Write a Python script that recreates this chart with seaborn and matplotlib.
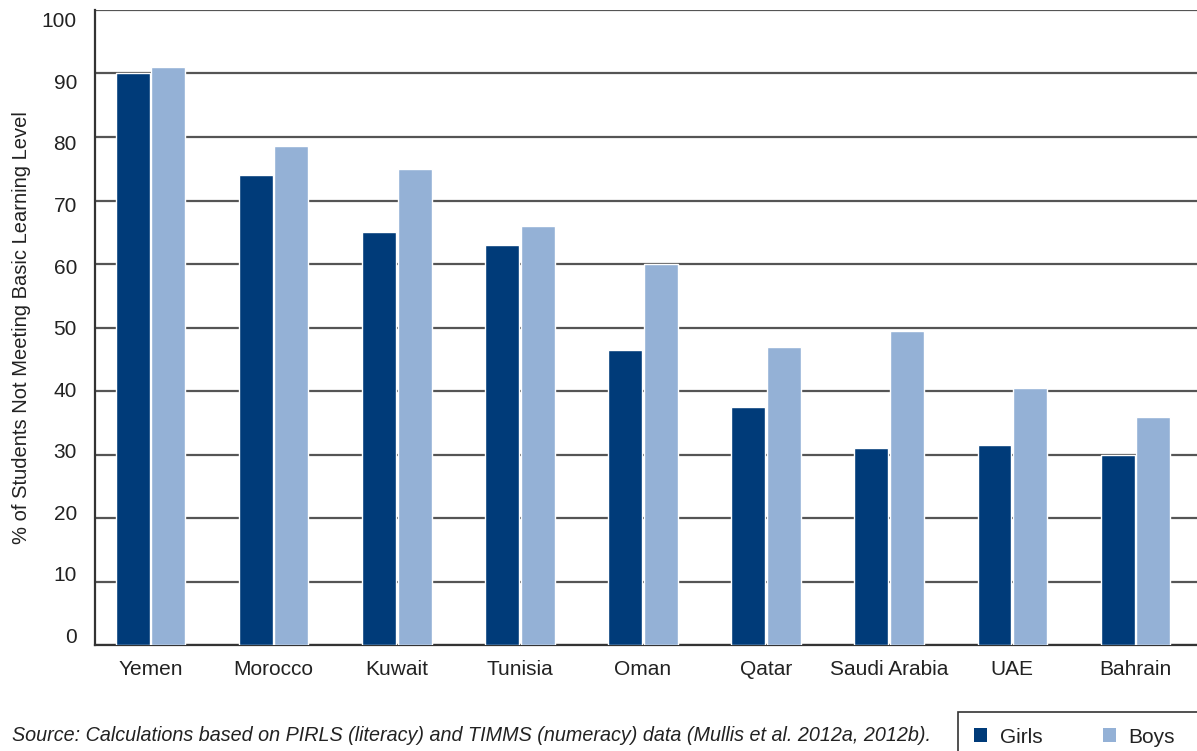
import matplotlib
matplotlib.use("Agg")
import matplotlib.pyplot as plt
import matplotlib.patches as mpatches
import matplotlib.transforms as mtransforms
import seaborn as sns
import pandas as pd

# Share of students not meeting the basic learning level, by country and sex
countries = ["Yemen", "Morocco", "Kuwait", "Tunisia", "Oman", "Qatar",
             "Saudi Arabia", "UAE", "Bahrain"]
girls = [90.0, 74.0, 65.0, 63.0, 46.5, 37.5, 31.0, 31.5, 30.0]
boys = [91.0, 78.6, 75.0, 66.0, 60.0, 46.9, 49.4, 40.5, 35.9]
series = ["Girls", "Boys"]
y_ticks = [0, 10, 20, 30, 40, 50, 60, 70, 80, 90, 100]

df = pd.DataFrame({
    "country": countries * 2,
    "sex": [series[0]] * len(countries) + [series[1]] * len(countries),
    "value": girls + boys,
})

sns.set_theme(style="white")
plt.rcParams["font.family"] = ["Liberation Sans", "DejaVu Sans"]

fig = plt.figure(figsize=(11.97, 7.51), dpi=100)
ax = fig.add_axes([0.0794, 0.1411, 0.9206, 0.8456])

palette = {"Girls": "#003B79", "Boys": "#94B1D6"}
sns.barplot(data=df, x="country", y="value", hue="sex", order=countries,
            hue_order=series, palette=palette, width=0.58, gap=0.05,
            saturation=1, ax=ax, legend=False, zorder=3)

ax.set_ylim(0, 100)
ax.set_xlim(-0.45, 8.5)
ax.set_yticks(y_ticks)
ax.set_yticklabels([str(t) for t in y_ticks], fontsize=15, color="#222222")
ax.tick_params(axis="x", labelsize=15, colors="#222222", length=0, pad=11)
ax.tick_params(axis="y", length=0, pad=13)
ax.yaxis.grid(True, color="#555555", linewidth=1.6, zorder=0)
ax.set_axisbelow(True)

# value labels sit on a slightly tighter scale than the gridlines:
# the bottom label rides a little above 0, the top one a little below 100
for val, lab in zip(y_ticks, ax.get_yticklabels()):
    dy = (10 - 0.2 * val) / 100.0
    lab.set_transform(lab.get_transform()
                      + mtransforms.ScaledTranslation(0, dy, fig.dpi_scale_trans))

for side in ["top", "right"]:
    ax.spines[side].set_visible(False)
for side in ["left", "bottom"]:
    ax.spines[side].set_color("#333333")
    ax.spines[side].set_linewidth(1.6)

ax.set_xlabel("")
ax.set_ylabel("% of Students Not Meeting Basic Learning Level", fontsize=14.5,
              color="#222222", labelpad=8)

fig.text(0.010, 0.0085,
         "Source: Calculations based on PIRLS (literacy) and TIMMS (numeracy) "
         "data (Mullis et al. 2012a, 2012b).",
         fontsize=14.2, style="italic", color="#222222", va="bottom")

handles = [plt.Rectangle((0, 0), 1, 1, facecolor=palette[s], edgecolor="none")
           for s in series]
leg = fig.legend(handles, series, loc="upper left", ncol=2,
                 bbox_to_anchor=(0.8003, 0.0519), fontsize=15, frameon=False,
                 handlelength=0.65, handleheight=0.65,
                 columnspacing=2.9, handletextpad=0.6, borderpad=0.75,
                 borderaxespad=0)
for t in leg.get_texts():
    t.set_color("#222222")

# legend box running off the lower-right corner of the figure
fig.patches.append(mpatches.Rectangle(
    (0.8003, -0.05), 0.25, 0.1019, transform=fig.transFigure,
    fill=False, edgecolor="#333333", linewidth=1.2))

fig.savefig("out.png", dpi=100)
